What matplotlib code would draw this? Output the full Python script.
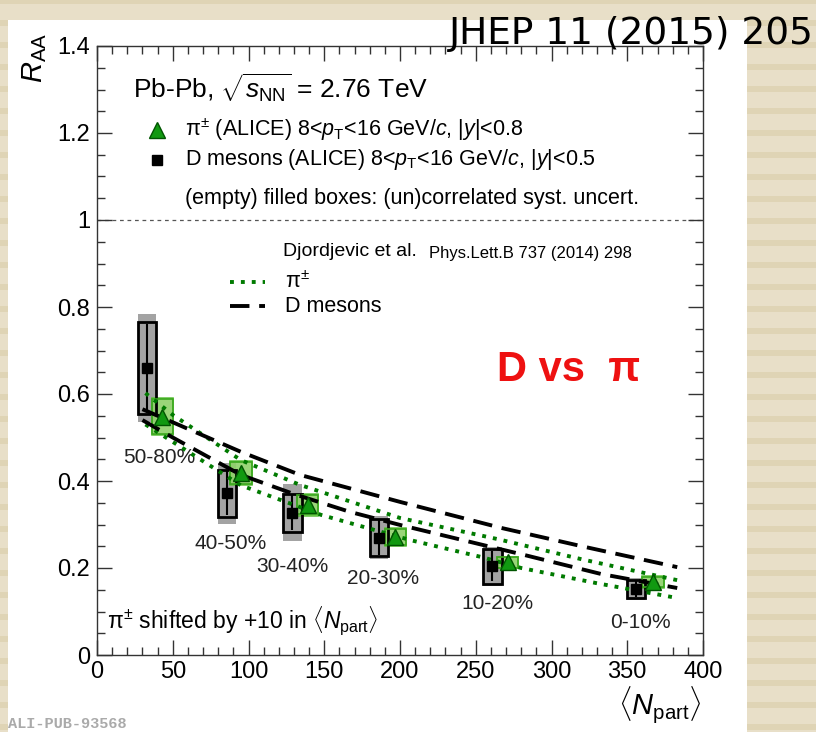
import matplotlib
matplotlib.use('Agg')
import matplotlib.pyplot as plt
from matplotlib.patches import Rectangle
from matplotlib.ticker import MultipleLocator, FuncFormatter

# 字体设置
plt.rcParams['font.family'] = ['Liberation Sans', 'DejaVu Sans']
plt.rcParams['mathtext.fontset'] = 'custom'
plt.rcParams['mathtext.rm'] = 'Liberation Sans'
plt.rcParams['mathtext.it'] = 'Liberation Sans:italic'
plt.rcParams['mathtext.bf'] = 'Liberation Sans:bold'

# D mesons (ALICE)
d_npart = [33, 86, 129, 186, 261, 356]
d_raa = [0.66, 0.372, 0.327, 0.270, 0.204, 0.152]
d_stat = [0.10, 0.05, 0.04, 0.04, 0.035, 0.018]
d_sys_unc = [0.125, 0.07, 0.065, 0.05, 0.045, 0.025]
d_sys_cor = [0.105, 0.054, 0.044, 0.043, 0.040, 0.020]

# pions (ALICE), shifted by +10 in Npart
pi_npart = [33, 85, 129, 187, 261, 357]
pi_shift = 10
pi_raa = [0.548, 0.418, 0.345, 0.271, 0.213, 0.168]
pi_sys_unc = [0.043, 0.027, 0.025, 0.020, 0.013, 0.013]
pi_sys_cor = [0.040, 0.025, 0.022, 0.018, 0.012, 0.012]

cent_labels = ['50-80%', '40-50%', '30-40%', '20-30%', '10-20%', '0-10%']

# Djordjevic et al. 理论曲线
th_d_up_x = [30, 50, 95, 134, 200, 267, 320, 383]
th_d_up_y = [0.565, 0.535, 0.467, 0.414, 0.352, 0.292, 0.250, 0.202]
th_d_lo_x = [30, 50, 95, 130, 167, 200, 238, 282, 333, 383]
th_d_lo_y = [0.540, 0.500, 0.414, 0.370, 0.329, 0.299, 0.267, 0.230, 0.186, 0.154]
th_pi_up_x = [32, 50, 95, 134, 200, 265, 320, 383]
th_pi_up_y = [0.602, 0.552, 0.448, 0.391, 0.315, 0.266, 0.220, 0.172]
th_pi_lo_x = [32, 50, 95, 148, 207, 254, 280, 330, 383]
th_pi_lo_y = [0.530, 0.490, 0.390, 0.322, 0.264, 0.225, 0.200, 0.165, 0.131]

W, H = 816, 732
fig = plt.figure(figsize=(W / 100, H / 100), dpi=100)
fig.patch.set_facecolor('#E8DFC8')

# 背景条纹和白色面板
for y0 in range(-2, H, 22):
    fig.add_artist(Rectangle((0, 1 - (y0 + 6) / H), 1, 6 / H, transform=fig.transFigure,
                             facecolor='#DFD4B5', edgecolor='none', zorder=-3))
fig.add_artist(Rectangle((8 / W, 0), (747 - 8) / W, (H - 20) / H, transform=fig.transFigure,
                         facecolor='white', edgecolor='none', zorder=-2))

ax = fig.add_axes([97 / W, 1 - 655 / H, 606 / W, 609 / H])
ax.set_xlim(0, 400)
ax.set_ylim(0, 1.4)

# 坐标轴
ax.xaxis.set_major_locator(MultipleLocator(50))
ax.xaxis.set_minor_locator(MultipleLocator(10))
ax.yaxis.set_major_locator(MultipleLocator(0.2))
ax.yaxis.set_minor_locator(MultipleLocator(0.05))
fmt = FuncFormatter(lambda v, p: f'{v:g}')
ax.xaxis.set_major_formatter(fmt)
ax.yaxis.set_major_formatter(fmt)
ax.tick_params(which='both', direction='in', top=True, right=True, labelsize=17, color='#333333')
ax.tick_params(which='major', length=11, width=1)
ax.tick_params(which='minor', length=5.5, width=1)
ax.tick_params(axis='x', pad=4)
ax.tick_params(axis='y', pad=5)
for spine in ax.spines.values():
    spine.set_color('#333333')
    spine.set_linewidth(1)

ax.axhline(1, color='#555555', lw=0.9, ls=(0, (3, 3)), zorder=1)

# D 介子系统误差框
for n, r, su, sc in zip(d_npart, d_raa, d_sys_unc, d_sys_cor):
    ax.add_patch(Rectangle((n - 6, r - su), 12, 2 * su, facecolor='#a3a3a3', edgecolor='none', zorder=2))
    ax.add_patch(Rectangle((n - 6, r - sc), 12, 2 * sc, fill=False, edgecolor='black', lw=2, zorder=3))
ax.errorbar(d_npart, d_raa, yerr=d_stat, fmt='none', ecolor='black', elinewidth=1.5, capsize=0, zorder=4)

# π 系统误差框
pi_x = [n + pi_shift for n in pi_npart]
for n, r, su, sc in zip(pi_x, pi_raa, pi_sys_unc, pi_sys_cor):
    ax.add_patch(Rectangle((n - 7, r - su), 14, 2 * su, facecolor='#8fd16a', edgecolor='#5cc03a',
                           lw=1.2, alpha=0.9, zorder=2.5))
    ax.add_patch(Rectangle((n - 7, r - sc), 14, 2 * sc, fill=False, edgecolor='#3aa81e', lw=1.2, zorder=3))

# 理论曲线
green = '#007a00'
dot = (0, (1, 1.8))
dash = (0, (5, 2.5))
ax.plot(th_pi_up_x, th_pi_up_y, color=green, lw=2.8, ls=dot, zorder=5)
ax.plot(th_pi_lo_x, th_pi_lo_y, color=green, lw=2.8, ls=dot, zorder=5)
ax.plot(th_d_up_x, th_d_up_y, color='black', lw=2.8, ls=dash, zorder=5)
ax.plot(th_d_lo_x, th_d_lo_y, color='black', lw=2.8, ls=dash, zorder=5)

# 数据点
ax.plot(d_npart, d_raa, 's', color='black', ms=7, zorder=6)
ax.plot(pi_x, pi_raa, '^', color='#119911', mec='#005500', mew=1, ms=11, zorder=6)

# 中心度标签
cent_pos = [(0.102, 0.325), (0.221, 0.183), (0.323, 0.145), (0.472, 0.125), (0.660, 0.085), (0.896, 0.054)]
for lab, (x, y) in zip(cent_labels, cent_pos):
    ax.text(x, y, lab, transform=ax.transAxes, ha='center', va='center', fontsize=15, color='#222222')

# 图例
fs = 15.5
ax.text(0.059, 0.931, r'Pb-Pb, $\sqrt{s_{\rm NN}}$ = 2.76 TeV', transform=ax.transAxes,
        ha='left', va='center', fontsize=19)
ax.plot([0.099], [0.862], '^', color='#119911', mec='#005500', ms=11, transform=ax.transAxes, clip_on=False)
ax.text(0.145, 0.862, r'π$^{\pm}$ (ALICE) 8<$p_{\rm T}$<16 GeV/$c$, |$y$|<0.8', transform=ax.transAxes,
        ha='left', va='center', fontsize=fs)
ax.plot([0.099], [0.813], 's', color='black', ms=7, transform=ax.transAxes, clip_on=False)
ax.text(0.145, 0.813, r'D mesons (ALICE) 8<$p_{\rm T}$<16 GeV/$c$, |$y$|<0.5', transform=ax.transAxes,
        ha='left', va='center', fontsize=fs)
ax.text(0.145, 0.749, '(empty) filled boxes: (un)correlated syst. uncert.', transform=ax.transAxes,
        ha='left', va='center', fontsize=fs)

ax.text(0.307, 0.662, 'Djordjevic et al.', transform=ax.transAxes, ha='left', va='center', fontsize=14)
ax.text(0.548, 0.660, 'Phys.Lett.B 737 (2014) 298', transform=ax.transAxes, ha='left', va='center', fontsize=12)
ax.plot([0.219, 0.277], [0.612, 0.612], color=green, lw=2.8, ls=dot, transform=ax.transAxes)
ax.text(0.31, 0.612, r'π$^{\pm}$', transform=ax.transAxes, ha='left', va='center', fontsize=fs)
ax.plot([0.219, 0.277], [0.573, 0.573], color='black', lw=2.8, ls=dash, transform=ax.transAxes)
ax.text(0.31, 0.573, 'D mesons', transform=ax.transAxes, ha='left', va='center', fontsize=fs)

ax.text(0.0165, 0.057, r'π$^{\pm}$ shifted by +10 in $\langle N_{\rm part}\rangle$', transform=ax.transAxes,
        ha='left', va='center', fontsize=16.5)

ax.text(0.66, 0.468, 'D vs  π', transform=ax.transAxes, ha='left', va='center', fontsize=30,
        fontweight='bold', color='#ee1111')

# 轴标题
fig.text(35 / W, 1 - 33 / H, r'$R_{\rm AA}$', rotation=90, ha='center', va='top', fontsize=21)
fig.text(702 / W, 1 - 684 / H, r'$\langle N_{\rm part}\rangle$', ha='right', va='top', fontsize=21)

fig.text(814 / W, 1 - 44 / H, 'JHEP 11 (2015) 205', ha='right', va='baseline', fontsize=27,
         family='DejaVu Sans')
fig.text(8 / W, 1 - 724 / H, 'ALI-PUB-93568', ha='left', va='center', fontsize=11,
         family='Liberation Mono', fontweight='bold', color='#aaaaaa')

fig.savefig('out.png', dpi=100, facecolor=fig.get_facecolor())
